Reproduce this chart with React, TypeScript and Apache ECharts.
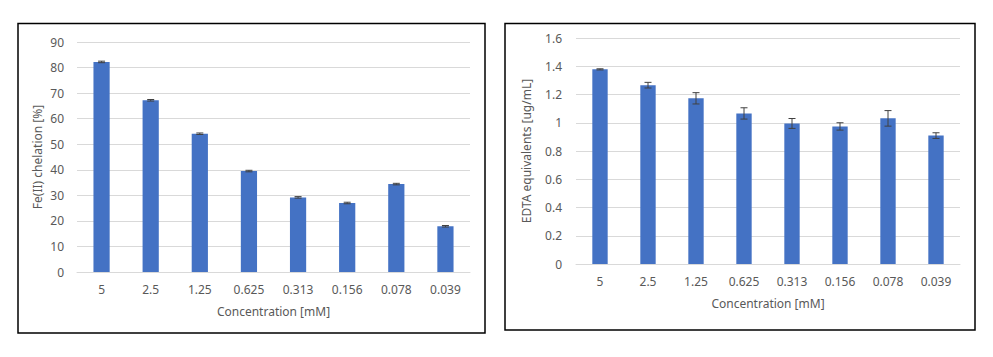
import React, { useEffect, useRef } from "react";
import * as echarts from "echarts";

const categories = ["5", "2.5", "1.25", "0.625", "0.313", "0.156", "0.078", "0.039"];
const chelation = [82.2, 67.2, 54.1, 39.5, 29.2, 27.0, 34.4, 17.9];
const chelationErr = [0.3, 0.3, 0.3, 0.3, 0.3, 0.3, 0.3, 0.3];
const edta = [1.378, 1.266, 1.173, 1.066, 0.995, 0.974, 1.031, 0.909];
const edtaErr = [0.004, 0.02, 0.04, 0.04, 0.035, 0.026, 0.055, 0.02];

const FONT = "Noto Sans";
const GRAY = "#595959";

function errSeries(values: number[], errs: number[], idx: number) {
  return {
    type: "custom",
    xAxisIndex: idx,
    yAxisIndex: idx,
    z: 10,
    data: values.map((v, i) => [i, v, errs[i]]),
    renderItem: (params: any, api: any) => {
      const i = api.value(0);
      const v = api.value(1);
      const e = api.value(2);
      const hi = api.coord([i, v + e]);
      const lo = api.coord([i, v - e]);
      const w = 3.5;
      const style = { stroke: "#404040", lineWidth: 1 };
      return {
        type: "group",
        children: [
          { type: "line", shape: { x1: hi[0], y1: hi[1], x2: lo[0], y2: lo[1] }, style },
          { type: "line", shape: { x1: hi[0] - w, y1: hi[1], x2: hi[0] + w, y2: hi[1] }, style },
          { type: "line", shape: { x1: lo[0] - w, y1: lo[1], x2: lo[0] + w, y2: lo[1] }, style },
        ],
      };
    },
  };
}

function xAxis(gridIndex: number) {
  return {
    type: "category",
    gridIndex,
    data: categories,
    axisLine: { lineStyle: { color: "#d9d9d9" } },
    axisTick: { show: false },
    axisLabel: { color: GRAY, fontFamily: FONT, fontSize: 12, margin: 11 },
    name: "Concentration [mM]",
    nameLocation: "middle",
    nameGap: 33,
    nameTextStyle: { color: GRAY, fontFamily: FONT, fontSize: 12 },
  };
}

export default function App() {
  const ref = useRef<HTMLDivElement>(null);
  useEffect(() => {
    if (!ref.current) return;
    const chart = echarts.init(ref.current, undefined, { renderer: "svg" });
    chart.setOption({
      animation: false,
      backgroundColor: "#ffffff",
      grid: [
        { left: 77, right: 523, top: 42, bottom: 85 },
        { left: 576, right: 33, top: 38, bottom: 93 },
      ],
      xAxis: [xAxis(0), xAxis(1)],
      yAxis: [
        {
          type: "value",
          gridIndex: 0,
          min: 0,
          max: 90,
          interval: 10,
          axisLine: { show: false },
          axisTick: { show: false },
          splitLine: { lineStyle: { color: "#d9d9d9" } },
          axisLabel: { color: GRAY, fontFamily: FONT, fontSize: 12, margin: 13 },
          name: "Fe(II) chelation [%]",
          nameLocation: "middle",
          nameGap: 34,
          nameTextStyle: { color: GRAY, fontFamily: FONT, fontSize: 12 },
        },
        {
          type: "value",
          gridIndex: 1,
          min: 0,
          max: 1.6,
          interval: 0.2,
          axisLine: { show: false },
          axisTick: { show: false },
          splitLine: { lineStyle: { color: "#d9d9d9" } },
          axisLabel: { color: GRAY, fontFamily: FONT, fontSize: 12, margin: 14 },
          name: "EDTA equivalents [ug/mL]",
          nameLocation: "middle",
          nameGap: 44,
          nameTextStyle: { color: GRAY, fontFamily: FONT, fontSize: 12 },
        },
      ],
      series: [
        {
          type: "bar",
          xAxisIndex: 0,
          yAxisIndex: 0,
          data: chelation,
          barWidth: "33%",
          itemStyle: { color: "#4472C4" },
        },
        errSeries(chelation, chelationErr, 0),
        {
          type: "bar",
          xAxisIndex: 1,
          yAxisIndex: 1,
          data: edta,
          barWidth: "32%",
          itemStyle: { color: "#4472C4" },
        },
        errSeries(edta, edtaErr, 1),
      ],
      graphic: [
        {
          type: "rect",
          shape: { x: 18, y: 23.5, width: 467, height: 309.5 },
          style: { fill: "none", stroke: "#000", lineWidth: 1.5 },
          z: 100,
        },
        {
          type: "rect",
          shape: { x: 505, y: 23.5, width: 470, height: 306.5 },
          style: { fill: "none", stroke: "#000", lineWidth: 1.5 },
          z: 100,
        },
      ],
    });
    return () => chart.dispose();
  }, []);
  return (
    <div
      ref={ref}
      style={{ position: "fixed", left: 0, top: 0, width: 993, height: 357, background: "#fff" }}
    />
  );
}
